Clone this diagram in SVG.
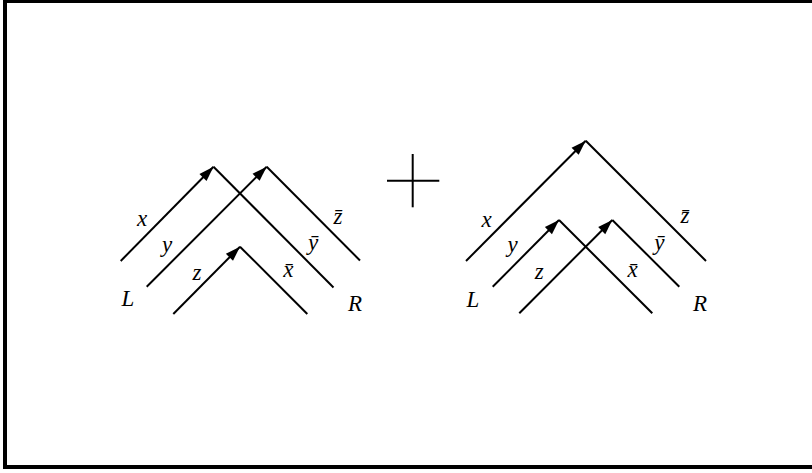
<svg xmlns="http://www.w3.org/2000/svg" width="812" height="473" viewBox="0 0 812 473">
<defs>
<marker id="arr" markerUnits="userSpaceOnUse" markerWidth="20" markerHeight="14" viewBox="-16 -7 20 14" refX="0" refY="0" orient="auto">
<path d="M0,0 L-15,-5 L-15,5 z" fill="#000"/>
</marker>
</defs>
<style>
.ln{stroke:#000;stroke-width:2;fill:none}
.t{font-family:"Liberation Serif","DejaVu Serif",serif;font-style:italic;font-size:23px;text-anchor:middle;fill:#000}
</style>
<rect x="5" y="1" width="812" height="466" fill="#fff" stroke="#000" stroke-width="4"/>
<g id="left-diagram">
<g id="left-x">
<line class="ln" x1="120.7" y1="261" x2="213.5" y2="166.7" marker-end="url(#arr)"/>
<polyline class="ln" points="213.5,166.7 333.5,287.5"/>
</g>
<g id="left-y">
<line class="ln" x1="146.7" y1="286.7" x2="266.7" y2="166.7" marker-end="url(#arr)"/>
<polyline class="ln" points="266.7,166.7 360,260.5"/>
</g>
<g id="left-z">
<line class="ln" x1="173.3" y1="314" x2="240" y2="246.7" marker-end="url(#arr)"/>
<polyline class="ln" points="240,246.7 307.3,314"/>
</g>
<text class="t" x="142" y="225.7">x</text>
<text class="t" x="167" y="252">y</text>
<text class="t" x="197" y="279.5">z</text>
<text class="t" x="128" y="306">L</text>
<text class="t" x="355" y="311">R</text>
<text class="t" x="338" y="223.5">z̄</text>
<text class="t" x="313" y="250">ȳ</text>
<text class="t" x="288.3" y="276.7">x̄</text>
</g>
<g id="plus">
<line class="ln" x1="387" y1="180.7" x2="439.3" y2="180.7" stroke-width="1.6"/>
<line class="ln" x1="412.7" y1="154" x2="412.7" y2="207.3" stroke-width="1.6"/>
</g>
<g id="right-diagram">
<g id="right-x">
<line class="ln" x1="466" y1="261" x2="585.7" y2="140.7" marker-end="url(#arr)"/>
<polyline class="ln" points="585.7,140.7 706,261"/>
</g>
<g id="right-y">
<line class="ln" x1="492.7" y1="286.7" x2="559" y2="220" marker-end="url(#arr)"/>
<polyline class="ln" points="559,220 652.3,313.3"/>
</g>
<g id="right-z">
<line class="ln" x1="519.3" y1="313.3" x2="612.3" y2="220" marker-end="url(#arr)"/>
<polyline class="ln" points="612.3,220 679.3,286.7"/>
</g>
<text class="t" x="486.7" y="226.7">x</text>
<text class="t" x="512.7" y="252">y</text>
<text class="t" x="539.3" y="278.5">z</text>
<text class="t" x="473" y="306.5">L</text>
<text class="t" x="700" y="311">R</text>
<text class="t" x="685" y="223.3">z̄</text>
<text class="t" x="659.3" y="250">ȳ</text>
<text class="t" x="632.7" y="276.7">x̄</text>
</g>
</svg>
